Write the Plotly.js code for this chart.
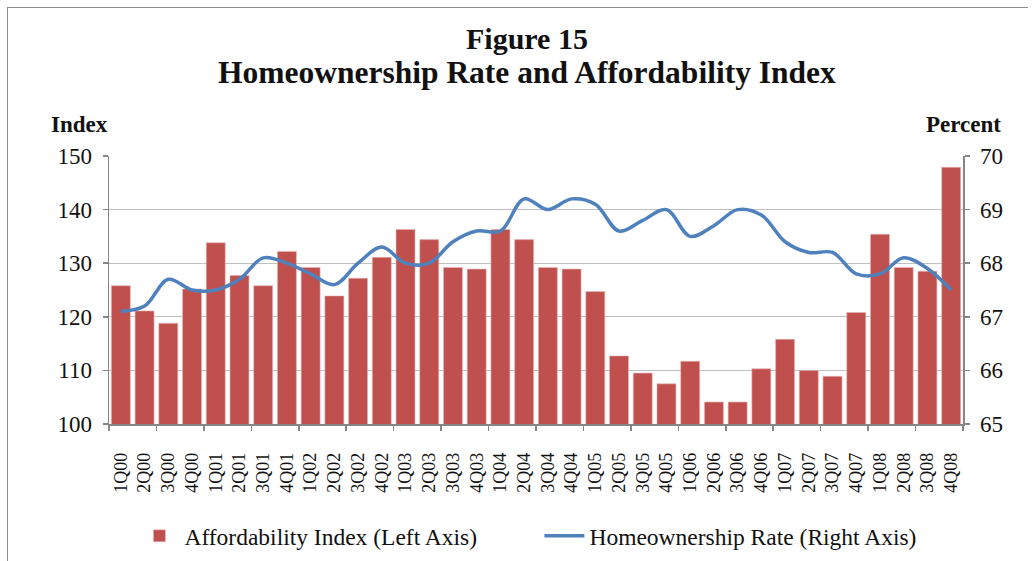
<!DOCTYPE html>
<html>
<head>
<meta charset="utf-8">
<script src="https://cdn.plot.ly/plotly-3.0.1.min.js"></script>
<style>
  html, body { margin: 0; padding: 0; background: #fff; }
  #wrap { position: relative; width: 1036px; height: 561px; }
  #chart { width: 1036px; height: 561px; }
  #frame { position: absolute; left: 7px; top: 7px; width: 1020px; height: 560px;
           border-top: 1px solid #8c8c8c; border-left: 1px solid #8c8c8c; pointer-events: none; }
</style>
</head>
<body>
<div id="wrap">
  <div id="chart"></div>
  <div id="frame"></div>
</div>
<script>
const quarters = ["1Q00","2Q00","3Q00","4Q00","1Q01","2Q01","3Q01","4Q01","1Q02","2Q02","3Q02","4Q02",
                  "1Q03","2Q03","3Q03","4Q03","1Q04","2Q04","3Q04","4Q04","1Q05","2Q05","3Q05","4Q05",
                  "1Q06","2Q06","3Q06","4Q06","1Q07","2Q07","3Q07","4Q07","1Q08","2Q08","3Q08","4Q08"];
const affordabilityIndex = [125.8,121.1,118.8,125.2,133.8,127.7,125.8,132.2,129.2,123.9,127.2,131.1,
                            136.3,134.4,129.2,128.9,136.3,134.4,129.2,128.9,124.7,112.7,109.5,107.5,
                            111.7,104.1,104.1,110.3,115.8,110.0,108.9,120.8,135.4,129.2,128.5,147.9];
const homeownershipRate = [67.1,67.2,67.7,67.5,67.5,67.7,68.1,68.0,67.8,67.6,68.0,68.3,
                           68.0,68.0,68.4,68.6,68.6,69.2,69.0,69.2,69.1,68.6,68.8,69.0,
                           68.5,68.7,69.0,68.9,68.4,68.2,68.2,67.8,67.8,68.1,67.9,67.5];
const leftTicks = [100,110,120,130,140,150];
const rightTicks = [65,66,67,68,69,70];

const FONT = 'Liberation Serif, serif';
const INK = '#111111';

const traces = [
  {
    type: 'bar', name: 'Affordability Index (Left Axis)',
    x: quarters, y: affordabilityIndex, xaxis: 'x', yaxis: 'y',
    marker: { color: '#C0504D', line: { color: '#E6B9B8', width: 0.6 } }
  },
  {
    type: 'scatter', mode: 'lines', name: 'Homeownership Rate (Right Axis)',
    x: quarters, y: homeownershipRate, xaxis: 'x', yaxis: 'y2',
    line: { color: '#4F81BD', width: 3.5, shape: 'spline', smoothing: 1 }
  },
  {
    type: 'scatter', mode: 'none', x: [-0.5, quarters.length - 0.5], y: [100, 100],
    xaxis: 'x2', yaxis: 'y', showlegend: false, hoverinfo: 'skip'
  }
];

const layout = {
  width: 1036, height: 561,
  margin: { l: 109, r: 73, t: 156, b: 137, autoexpand: false },
  paper_bgcolor: '#ffffff', plot_bgcolor: '#ffffff',
  font: { family: FONT, color: INK, size: 21 },
  bargap: 0.2,
  showlegend: true,
  legend: {
    orientation: 'h', x: 0.504, xanchor: 'center', y: -0.418, yanchor: 'middle',
    font: { family: FONT, size: 23.5, color: INK },
    entrywidth: 350, traceorder: 'normal', itemwidth: 40
  },
  xaxis: {
    type: 'category', range: [-0.5, quarters.length - 0.5],
    showline: true, linecolor: '#868686', linewidth: 1.5, automargin: false,
    ticks: '', tickangle: -90, tickfont: { family: FONT, size: 18, color: INK },
    ticklabelstandoff: 20, showgrid: false, zeroline: false, fixedrange: true
  },
  xaxis2: {
    overlaying: 'x', range: [-0.5, quarters.length - 0.5], tick0: -0.5, dtick: 2,
    ticks: 'outside', ticklen: 6, tickcolor: '#868686', tickwidth: 1.5, automargin: false,
    showticklabels: false, showgrid: false, zeroline: false, showline: false
  },
  yaxis: {
    range: [100, 150], tickvals: leftTicks, ticktext: leftTicks.map(String),
    showline: true, linecolor: '#868686', linewidth: 1.5, automargin: false,
    ticks: 'outside', ticklen: 5, tickcolor: '#868686', tickwidth: 1.5,
    showgrid: true, gridcolor: '#c0c0c0', gridwidth: 1.2, zeroline: false,
    tickfont: { family: FONT, size: 23, color: INK }, ticklabelstandoff: 6
  },
  yaxis2: {
    overlaying: 'y', side: 'right', range: [65, 70], tickvals: rightTicks, ticktext: rightTicks.map(String),
    showline: true, linecolor: '#868686', linewidth: 1.5, automargin: false,
    ticks: 'outside', ticklen: 5, tickcolor: '#868686', tickwidth: 1.5,
    showgrid: false, zeroline: false,
    tickfont: { family: FONT, size: 23, color: INK }, ticklabelstandoff: 6
  },
  annotations: [
    { text: '<b>Figure 15</b>', xref: 'paper', yref: 'paper', x: 0.4895, y: 1.44,
      xanchor: 'center', yanchor: 'middle', showarrow: false, font: { family: FONT, size: 30, color: INK } },
    { text: '<b>Homeownership Rate and Affordability Index</b>', xref: 'paper', yref: 'paper', x: 0.4895, y: 1.31,
      xanchor: 'center', yanchor: 'middle', showarrow: false, font: { family: FONT, size: 31.5, color: INK } },
    { text: '<b>Index</b>', xref: 'paper', yref: 'paper', x: -0.034, y: 1.116,
      xanchor: 'center', yanchor: 'middle', showarrow: false, font: { family: FONT, size: 23, color: INK } },
    { text: '<b>Percent</b>', xref: 'paper', yref: 'paper', x: 1.0, y: 1.116,
      xanchor: 'center', yanchor: 'middle', showarrow: false, font: { family: FONT, size: 23, color: INK } }
  ]
};

Plotly.newPlot('chart', traces, layout, { staticPlot: true, displayModeBar: false }).then(function (gd) {
  gd.querySelectorAll('.xtick text, .ytick text, .y2tick text, .legendtext').forEach(function (el) {
    el.style.fontFamily = '"Liberation Serif", serif';
  });
});
</script>
</body>
</html>
